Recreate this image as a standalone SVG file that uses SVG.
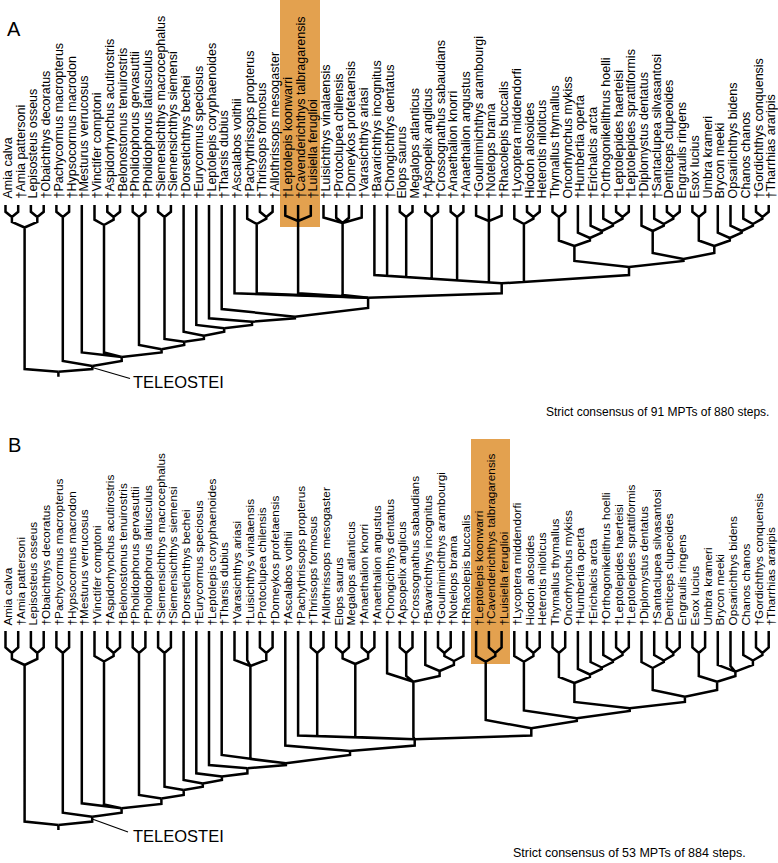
<svg xmlns="http://www.w3.org/2000/svg" width="778" height="863" viewBox="0 0 778 863">
<style>
.e{fill:none;stroke:#000;stroke-width:2.5;stroke-linejoin:miter}
.la{font-family:"Liberation Sans",Arial,sans-serif;font-size:12.5px;fill:#000}
.lb{font-family:"Liberation Sans",Arial,sans-serif;font-size:11.8px;fill:#000}
.cap{font-family:"Liberation Sans",Arial,sans-serif;fill:#000}
.tel{font-family:"Liberation Sans",Arial,sans-serif;font-size:16.5px;fill:#000}
.pl{font-family:"Liberation Sans",Arial,sans-serif;font-size:20px;fill:#000}
.hl{fill:#e3a14f}
</style>
<rect id="highlightA" class="hl" x="280" y="0" width="40" height="227"/>
<rect id="highlightB" class="hl" x="471" y="439" width="39" height="225"/>
<g id="panelA-title"><text class="pl" x="7" y="36">A</text></g>
<g id="panelB-title"><text class="pl" x="8" y="452">B</text></g>
<g id="taxaA">
<g id="a0"><text class="la" transform="translate(12,198.5) rotate(-90)">Amia calva</text></g>
<g id="a1"><text class="la" transform="translate(24.7,198.5) rotate(-90)">†Amia pattersoni</text></g>
<g id="a2"><text class="la" transform="translate(37.4,198.5) rotate(-90)">Lepisosteus osseus</text></g>
<g id="a3"><text class="la" transform="translate(50.2,198.5) rotate(-90)">†Obaichthys decoratus</text></g>
<g id="a4"><text class="la" transform="translate(62.9,198.5) rotate(-90)">†Pachycormus macropterus</text></g>
<g id="a5"><text class="la" transform="translate(75.6,198.5) rotate(-90)">†Hypsocormus macrodon</text></g>
<g id="a6"><text class="la" transform="translate(88.3,198.5) rotate(-90)">†Mesturus verrucosus</text></g>
<g id="a7"><text class="la" transform="translate(101,198.5) rotate(-90)">†Vinctifer comptoni</text></g>
<g id="a8"><text class="la" transform="translate(113.8,198.5) rotate(-90)">†Aspidorhynchus acutirostris</text></g>
<g id="a9"><text class="la" transform="translate(126.5,198.5) rotate(-90)">†Belonostomus tenuirostris</text></g>
<g id="a10"><text class="la" transform="translate(139.2,198.5) rotate(-90)">†Pholidophorus gervasuttii</text></g>
<g id="a11"><text class="la" transform="translate(151.9,198.5) rotate(-90)">†Pholidophorus latiusculus</text></g>
<g id="a12"><text class="la" transform="translate(164.6,198.5) rotate(-90)">†Siemensichthys macrocephalus</text></g>
<g id="a13"><text class="la" transform="translate(177.4,198.5) rotate(-90)">†Siemensichthys siemensi</text></g>
<g id="a14"><text class="la" transform="translate(190.1,198.5) rotate(-90)">†Dorsetichthys bechei</text></g>
<g id="a15"><text class="la" transform="translate(202.8,198.5) rotate(-90)">†Eurycormus speciosus</text></g>
<g id="a16"><text class="la" transform="translate(215.5,198.5) rotate(-90)">†Leptolepis coryphaenoides</text></g>
<g id="a17"><text class="la" transform="translate(228.2,198.5) rotate(-90)">†Tharsis dubius</text></g>
<g id="a18"><text class="la" transform="translate(241,198.5) rotate(-90)">†Ascalabos voithii</text></g>
<g id="a19"><text class="la" transform="translate(253.7,198.5) rotate(-90)">†Pachythrissops propterus</text></g>
<g id="a20"><text class="la" transform="translate(266.4,198.5) rotate(-90)">†Thrissops formosus</text></g>
<g id="a21"><text class="la" transform="translate(279.1,198.5) rotate(-90)">†Allothrissops mesogaster</text></g>
<g id="a22"><text class="la" transform="translate(291.8,198.5) rotate(-90)">†Leptolepis koonwarri</text></g>
<g id="a23"><text class="la" transform="translate(304.6,198.5) rotate(-90)">†Cavenderichthys talbragarensis</text></g>
<g id="a24"><text class="la" transform="translate(317.3,198.5) rotate(-90)">†Luisiella feruglioi</text></g>
<g id="a25"><text class="la" transform="translate(330,198.5) rotate(-90)">†Luisichthys vinalaensis</text></g>
<g id="a26"><text class="la" transform="translate(342.7,198.5) rotate(-90)">†Protoclupea chilensis</text></g>
<g id="a27"><text class="la" transform="translate(355.4,198.5) rotate(-90)">†Domeykos profetaensis</text></g>
<g id="a28"><text class="la" transform="translate(368.2,198.5) rotate(-90)">†Varasichthys ariasi</text></g>
<g id="a29"><text class="la" transform="translate(380.9,198.5) rotate(-90)">†Bavarichthys incognitus</text></g>
<g id="a30"><text class="la" transform="translate(393.6,198.5) rotate(-90)">†Chongichthys dentatus</text></g>
<g id="a31"><text class="la" transform="translate(406.3,198.5) rotate(-90)">Elops saurus</text></g>
<g id="a32"><text class="la" transform="translate(419,198.5) rotate(-90)">Megalops atlanticus</text></g>
<g id="a33"><text class="la" transform="translate(431.8,198.5) rotate(-90)">†Apsopelix anglicus</text></g>
<g id="a34"><text class="la" transform="translate(444.5,198.5) rotate(-90)">†Crossognathus sabaudians</text></g>
<g id="a35"><text class="la" transform="translate(457.2,198.5) rotate(-90)">†Anaethalion knorri</text></g>
<g id="a36"><text class="la" transform="translate(469.9,198.5) rotate(-90)">†Anaethalion angustus</text></g>
<g id="a37"><text class="la" transform="translate(482.6,198.5) rotate(-90)">†Goulmimichthys arambourgi</text></g>
<g id="a38"><text class="la" transform="translate(495.4,198.5) rotate(-90)">†Notelops brama</text></g>
<g id="a39"><text class="la" transform="translate(508.1,198.5) rotate(-90)">†Rhacolepis buccalis</text></g>
<g id="a40"><text class="la" transform="translate(520.8,198.5) rotate(-90)">†Lycoptera middendorfi</text></g>
<g id="a41"><text class="la" transform="translate(533.5,198.5) rotate(-90)">Hiodon alosoides</text></g>
<g id="a42"><text class="la" transform="translate(546.2,198.5) rotate(-90)">Heterotis niloticus</text></g>
<g id="a43"><text class="la" transform="translate(559,198.5) rotate(-90)">Thymallus thymallus</text></g>
<g id="a44"><text class="la" transform="translate(571.7,198.5) rotate(-90)">Oncorhynchus mykiss</text></g>
<g id="a45"><text class="la" transform="translate(584.4,198.5) rotate(-90)">†Humbertia operta</text></g>
<g id="a46"><text class="la" transform="translate(597.1,198.5) rotate(-90)">†Erichalcis arcta</text></g>
<g id="a47"><text class="la" transform="translate(609.8,198.5) rotate(-90)">†Orthogonikelithrus hoelli</text></g>
<g id="a48"><text class="la" transform="translate(622.6,198.5) rotate(-90)">†Leptolepides haerteisi</text></g>
<g id="a49"><text class="la" transform="translate(635.3,198.5) rotate(-90)">†Leptolepides sprattiformis</text></g>
<g id="a50"><text class="la" transform="translate(648,198.5) rotate(-90)">†Diplomystus dentatus</text></g>
<g id="a51"><text class="la" transform="translate(660.7,198.5) rotate(-90)">†Santaclupea silvasantosi</text></g>
<g id="a52"><text class="la" transform="translate(673.4,198.5) rotate(-90)">Denticeps clupeoides</text></g>
<g id="a53"><text class="la" transform="translate(686.2,198.5) rotate(-90)">Engraulis ringens</text></g>
<g id="a54"><text class="la" transform="translate(698.9,198.5) rotate(-90)">Esox lucius</text></g>
<g id="a55"><text class="la" transform="translate(711.6,198.5) rotate(-90)">Umbra krameri</text></g>
<g id="a56"><text class="la" transform="translate(724.3,198.5) rotate(-90)">Brycon meeki</text></g>
<g id="a57"><text class="la" transform="translate(737,198.5) rotate(-90)">Opsariichthys bidens</text></g>
<g id="a58"><text class="la" transform="translate(749.8,198.5) rotate(-90)">Chanos chanos</text></g>
<g id="a59"><text class="la" transform="translate(762.5,198.5) rotate(-90)">†Gordichthys conquensis</text></g>
<g id="a60"><text class="la" transform="translate(775.2,198.5) rotate(-90)">†Tharrhias araripis</text></g>
</g>
<g id="taxaB">
<g id="b0"><text class="lb" transform="translate(12,625.5) rotate(-90)">Amia calva</text></g>
<g id="b1"><text class="lb" transform="translate(24.7,625.5) rotate(-90)">†Amia pattersoni</text></g>
<g id="b2"><text class="lb" transform="translate(37.4,625.5) rotate(-90)">Lepisosteus osseus</text></g>
<g id="b3"><text class="lb" transform="translate(50.2,625.5) rotate(-90)">†Obaichthys decoratus</text></g>
<g id="b4"><text class="lb" transform="translate(62.9,625.5) rotate(-90)">†Pachycormus macropterus</text></g>
<g id="b5"><text class="lb" transform="translate(75.6,625.5) rotate(-90)">†Hypsocormus macrodon</text></g>
<g id="b6"><text class="lb" transform="translate(88.3,625.5) rotate(-90)">†Mesturus verrucosus</text></g>
<g id="b7"><text class="lb" transform="translate(101,625.5) rotate(-90)">†Vinctifer comptoni</text></g>
<g id="b8"><text class="lb" transform="translate(113.8,625.5) rotate(-90)">†Aspidorhynchus acutirostris</text></g>
<g id="b9"><text class="lb" transform="translate(126.5,625.5) rotate(-90)">†Belonostomus tenuirostris</text></g>
<g id="b10"><text class="lb" transform="translate(139.2,625.5) rotate(-90)">†Pholidophorus gervasuttii</text></g>
<g id="b11"><text class="lb" transform="translate(151.9,625.5) rotate(-90)">†Pholidophorus latiusculus</text></g>
<g id="b12"><text class="lb" transform="translate(164.6,625.5) rotate(-90)">†Siemensichthys macrocephalus</text></g>
<g id="b13"><text class="lb" transform="translate(177.4,625.5) rotate(-90)">†Siemensichthys siemensi</text></g>
<g id="b14"><text class="lb" transform="translate(190.1,625.5) rotate(-90)">†Dorsetichthys bechei</text></g>
<g id="b15"><text class="lb" transform="translate(202.8,625.5) rotate(-90)">†Eurycormus speciosus</text></g>
<g id="b16"><text class="lb" transform="translate(215.5,625.5) rotate(-90)">†Leptolepis coryphaenoides</text></g>
<g id="b17"><text class="lb" transform="translate(228.2,625.5) rotate(-90)">†Tharsis dubius</text></g>
<g id="b18"><text class="lb" transform="translate(241,625.5) rotate(-90)">†Varasichthys ariasi</text></g>
<g id="b19"><text class="lb" transform="translate(253.7,625.5) rotate(-90)">†Luisichthys vinalaensis</text></g>
<g id="b20"><text class="lb" transform="translate(266.4,625.5) rotate(-90)">†Protoclupea chilensis</text></g>
<g id="b21"><text class="lb" transform="translate(279.1,625.5) rotate(-90)">†Domeykos profetaensis</text></g>
<g id="b22"><text class="lb" transform="translate(291.8,625.5) rotate(-90)">†Ascalabos voithii</text></g>
<g id="b23"><text class="lb" transform="translate(304.6,625.5) rotate(-90)">†Pachythrissops propterus</text></g>
<g id="b24"><text class="lb" transform="translate(317.3,625.5) rotate(-90)">†Thrissops formosus</text></g>
<g id="b25"><text class="lb" transform="translate(330,625.5) rotate(-90)">†Allothrissops mesogaster</text></g>
<g id="b26"><text class="lb" transform="translate(342.7,625.5) rotate(-90)">Elops saurus</text></g>
<g id="b27"><text class="lb" transform="translate(355.4,625.5) rotate(-90)">Megalops atlanticus</text></g>
<g id="b28"><text class="lb" transform="translate(368.2,625.5) rotate(-90)">†Anaethalion knorri</text></g>
<g id="b29"><text class="lb" transform="translate(380.9,625.5) rotate(-90)">†Anaethalion angustus</text></g>
<g id="b30"><text class="lb" transform="translate(393.6,625.5) rotate(-90)">†Chongichthys dentatus</text></g>
<g id="b31"><text class="lb" transform="translate(406.3,625.5) rotate(-90)">†Apsopelix anglicus</text></g>
<g id="b32"><text class="lb" transform="translate(419,625.5) rotate(-90)">†Crossognathus sabaudians</text></g>
<g id="b33"><text class="lb" transform="translate(431.8,625.5) rotate(-90)">†Bavarichthys incognitus</text></g>
<g id="b34"><text class="lb" transform="translate(444.5,625.5) rotate(-90)">†Goulmimichthys arambourgi</text></g>
<g id="b35"><text class="lb" transform="translate(457.2,625.5) rotate(-90)">†Notelops brama</text></g>
<g id="b36"><text class="lb" transform="translate(469.9,625.5) rotate(-90)">†Rhacolepis buccalis</text></g>
<g id="b37"><text class="lb" transform="translate(482.6,625.5) rotate(-90)">†Leptolepis koonwarri</text></g>
<g id="b38"><text class="lb" transform="translate(495.4,625.5) rotate(-90)">†Cavenderichthys talbragarensis</text></g>
<g id="b39"><text class="lb" transform="translate(508.1,625.5) rotate(-90)">†Luisiella feruglioi</text></g>
<g id="b40"><text class="lb" transform="translate(520.8,625.5) rotate(-90)">†Lycoptera middendorfi</text></g>
<g id="b41"><text class="lb" transform="translate(533.5,625.5) rotate(-90)">Hiodon alosoides</text></g>
<g id="b42"><text class="lb" transform="translate(546.2,625.5) rotate(-90)">Heterotis niloticus</text></g>
<g id="b43"><text class="lb" transform="translate(559,625.5) rotate(-90)">Thymallus thymallus</text></g>
<g id="b44"><text class="lb" transform="translate(571.7,625.5) rotate(-90)">Oncorhynchus mykiss</text></g>
<g id="b45"><text class="lb" transform="translate(584.4,625.5) rotate(-90)">†Humbertia operta</text></g>
<g id="b46"><text class="lb" transform="translate(597.1,625.5) rotate(-90)">†Erichalcis arcta</text></g>
<g id="b47"><text class="lb" transform="translate(609.8,625.5) rotate(-90)">†Orthogonikelithrus hoelli</text></g>
<g id="b48"><text class="lb" transform="translate(622.6,625.5) rotate(-90)">†Leptolepides haerteisi</text></g>
<g id="b49"><text class="lb" transform="translate(635.3,625.5) rotate(-90)">†Leptolepides sprattiformis</text></g>
<g id="b50"><text class="lb" transform="translate(648,625.5) rotate(-90)">†Diplomystus dentatus</text></g>
<g id="b51"><text class="lb" transform="translate(660.7,625.5) rotate(-90)">†Santaclupea silvasantosi</text></g>
<g id="b52"><text class="lb" transform="translate(673.4,625.5) rotate(-90)">Denticeps clupeoides</text></g>
<g id="b53"><text class="lb" transform="translate(686.2,625.5) rotate(-90)">Engraulis ringens</text></g>
<g id="b54"><text class="lb" transform="translate(698.9,625.5) rotate(-90)">Esox lucius</text></g>
<g id="b55"><text class="lb" transform="translate(711.6,625.5) rotate(-90)">Umbra krameri</text></g>
<g id="b56"><text class="lb" transform="translate(724.3,625.5) rotate(-90)">Brycon meeki</text></g>
<g id="b57"><text class="lb" transform="translate(737,625.5) rotate(-90)">Opsariichthys bidens</text></g>
<g id="b58"><text class="lb" transform="translate(749.8,625.5) rotate(-90)">Chanos chanos</text></g>
<g id="b59"><text class="lb" transform="translate(762.5,625.5) rotate(-90)">†Gordichthys conquensis</text></g>
<g id="b60"><text class="lb" transform="translate(775.2,625.5) rotate(-90)">†Tharrhias araripis</text></g>
</g>
<g id="connectors">
<path id="treeA-base" class="e" d="M5.5 205V211.8L11.9 217M18.2 205V211.8L11.9 217M30.9 205V211.8L37.3 217M43.7 205V211.8L37.3 217M11.9 217V222L24.6 227.5M37.3 217V222L24.6 227.5M24.6 227.5V369L58.4 371.7M56.4 205V211.8L62.8 217M69.1 205V211.8L62.8 217M62.8 217V361L92.3 366M81.8 205V352.5L121.7 357M107.3 205V211.8L113.6 217M120 205V211.8L113.6 217M94.5 205V219.7L104 225M113.6 217V219.7L104 225M104 225V352.5L121.7 357M132.7 205V211.8L139 217M145.4 205V211.8L139 217M139 217V345L161.6 349.3M158.1 205V211.8L164.5 217M170.9 205V211.8L164.5 217M164.5 217V339L184.2 341.7M183.6 205V331.7L203.9 335.7M196.3 205V325L224.2 328.3M209 205V318.3L252 321.7M221.7 205V309L294.9 316.7M234.5 205V293.3L368.1 297.7"/>
<path id="treeA-mid" class="e" d="M259.9 205V211.8L266.3 217M272.6 205V211.8L266.3 217M247.2 205V218.7L256.7 224M266.3 217V218.7L256.7 224M256.7 224V293.3L368.1 297.7M285.3 205V215.6L298.1 221M298.1 205V221M310.8 205V215.6L298.1 221M298.1 221V293.3L368.1 297.7M323.5 205V217.5L342.6 223M336.2 205V217.8L342.6 223M348.9 205V217.8L342.6 223M361.7 205V217.5L342.6 223M342.6 223V295L368.1 297.7M374.4 205V275L501.7 283.3M387.1 205V275.8L501.7 283.3M399.8 205V211.8L406.2 217M412.5 205V211.8L406.2 217M406.2 217V277L501.7 283.3M425.3 205V211.8L431.7 217M438 205V211.8L431.7 217M431.7 217V278.7L501.7 283.3M450.7 205V211.8L457.1 217M463.4 205V211.8L457.1 217M457.1 217V280.4L501.7 283.3M476.1 205V215.6L488.9 221M488.9 205V221M501.6 205V215.6L488.9 221M488.9 221V282.4L501.7 283.3M527 205V211.8L533.4 217M539.7 205V211.8L533.4 217M514.3 205V218.7L523.9 224M533.4 217V218.7L523.9 224M523.9 224V281.9L501.7 283.3M629 267V275L501.7 283.3"/>
<path id="treeA-spine" class="e" d="M501.7 283.3V293.3L368.1 297.7M368.1 297.7V308L294.9 316.7M294.9 316.7V318.3L252 321.7M252 321.7V325L224.2 328.3M224.2 328.3V331.7L203.9 335.7M203.9 335.7V339L184.2 341.7M184.2 341.7V345L161.6 349.3M161.6 349.3V352.5L121.7 357M121.7 357V361L92.3 366M92.3 366V369L58.4 371.7M58.4 371.7V376.7"/>
<path id="treeA-crown" class="e" d="M552.5 205V211.8L558.9 217M565.2 205V211.8L558.9 217M616.1 205V211.8L622.5 217M628.8 205V211.8L622.5 217M603.3 205V218.7L612.9 224M622.5 217V218.7L612.9 224M590.6 205V225.7L601.8 231M612.9 224V225.7L601.8 231M577.9 205V232.6L589.9 238M601.8 231V232.6L589.9 238M558.9 217V240.5L574.4 246M589.9 238V240.5L574.4 246M666.9 205V211.8L673.3 217M679.7 205V211.8L673.3 217M654.2 205V218.7L663.8 224M673.3 217V218.7L663.8 224M641.5 205V225.7L652.7 231M663.8 224V225.7L652.7 231M692.4 205V211.8L698.8 217M705.1 205V211.8L698.8 217M756 205V211.8L762.4 217M768.7 205V211.8L762.4 217M743.3 205V218.7L752.9 224M762.4 217V218.7L752.9 224M730.5 205V225.7L741.7 231M752.9 224V225.7L741.7 231M717.8 205V232.6L729.8 238M741.7 231V232.6L729.8 238M698.8 217V240.5L714.3 246M729.8 238V240.5L714.3 246M652.7 231V253L683.5 259M714.3 246V253L683.5 259M574.4 246V261L629 267M683.5 259V261L629 267"/>
<path id="leaderA" fill="none" stroke="#000" stroke-width="1.2" d="M92.3 367.5L130 378.5"/>
<path id="treeB-base" class="e" d="M5.5 631V647.5L11.9 653M18.2 631V647.5L11.9 653M30.9 631V647.5L37.3 653M43.7 631V647.5L37.3 653M11.9 653V659L24.6 665M37.3 653V659L24.6 665M24.6 665V821.5L58.4 825M56.4 631V647.5L62.8 653M69.1 631V647.5L62.8 653M62.8 653V812.7L92.2 816.7M81.8 631V803.3L121.6 808.3M107.3 631V647.5L113.6 653M120 631V647.5L113.6 653M94.5 631V656L104 661.5M113.6 653V656L104 661.5M104 661.5V804.5L121.6 808.3M132.7 631V647.5L139 653M145.4 631V647.5L139 653M139 653V795L161.4 798.5M158.1 631V647.5L164.5 653M170.9 631V647.5L164.5 653M164.5 653V786.7L183.7 790M183.6 631V780L202.8 783.5M196.3 631V773.3L221.9 776.5M209 631V765L247.4 768.3M221.7 631V755L285.9 763.3M234.5 631V660L250.4 666M247.2 631V660L250.4 666M259.9 631V647.5L266.3 653M272.6 631V647.5L266.3 653M266.3 653V660L250.4 666M250.4 666V759L285.9 763.3M285.3 631V745.5L350 751"/>
<path id="treeB-mid" class="e" d="M298.1 631V735.5L414.7 739.3M310.8 631V647.5L317.2 653M323.5 631V647.5L317.2 653M317.2 653V736L414.7 739.3M336.2 631V647.5L342.6 653M348.9 631V647.5L342.6 653M361.7 631V647.5L368.1 653M374.4 631V647.5L368.1 653M342.6 653V658.5L355.3 664M368.1 653V658.5L355.3 664M355.3 664V737L414.7 739.3M399.8 631V647.5L406.2 653M412.5 631V647.5L406.2 653M438 631V647.5L444.4 653M450.7 631V647.5L444.4 653M444.4 653V656L453.9 661M463.4 631V656L453.9 661M425.3 631V665L439.6 671M453.9 661V665L439.6 671M387.1 631V673.3L413.4 681.7M406.2 653V676L413.4 681.7M439.6 671V676L413.4 681.7M413.4 681.7V737L414.7 739.3M531.3 728.3V735.5L414.7 739.3"/>
<path id="treeB-spine" class="e" d="M414.7 739.3V745.5L350 751M350 751V755L285.9 763.3M285.9 763.3V765L247.4 768.3M247.4 768.3V773.3L221.9 776.5M221.9 776.5V780L202.8 783.5M202.8 783.5V786.7L183.7 790M183.7 790V795L161.4 798.5M161.4 798.5V804L121.6 808.3M121.6 808.3V812.7L92.2 816.7M92.2 816.7V821.5L58.4 825M58.4 825V830"/>
<path id="treeB-crown" class="e" d="M488.9 631V647.5L495.3 653M501.6 631V647.5L495.3 653M476.1 631V656L485.7 661.7M495.3 653V656L485.7 661.7M485.7 661.7V720L531.3 728.3M576.8 718.3V721L531.3 728.3M527 631V647.5L533.4 653M539.7 631V647.5L533.4 653M514.3 631V656L523.9 661.7M533.4 653V656L523.9 661.7M523.9 661.7V710.5L576.8 718.3M629.7 708.3V711L576.8 718.3M552.5 631V647.5L558.9 653M565.2 631V647.5L558.9 653M616.1 631V647.5L622.5 653M628.8 631V647.5L622.5 653M603.3 631V655L612.9 660.5M622.5 653V655L612.9 660.5M590.6 631V662L601.8 667.5M612.9 660.5V662L601.8 667.5M577.9 631V669L589.9 674.5M601.8 667.5V669L589.9 674.5M558.9 653V677L574.4 683M589.9 674.5V677L574.4 683M666.9 631V647.5L673.3 653M679.7 631V647.5L673.3 653M654.2 631V655L663.8 660.5M673.3 653V655L663.8 660.5M641.5 631V662L652.7 668M663.8 660.5V662L652.7 668M692.4 631V647.5L698.8 653M705.1 631V647.5L698.8 653M756 631V647.5L762.4 653M768.7 631V647.5L762.4 653M743.3 631V655L752.9 660.5M762.4 653V655L752.9 660.5M717.8 631V665L735.4 671.7M730.5 631V666L735.4 671.7M752.9 660.5V665L735.4 671.7M698.8 653V676L717.1 681.7M735.4 671.7V676L717.1 681.7M652.7 668V690L684.9 696.7M717.1 681.7V690L684.9 696.7M574.4 683V702L629.7 708.3M684.9 696.7V702L629.7 708.3"/>
<path id="leaderB" fill="none" stroke="#000" stroke-width="1.2" d="M92.2 819L128 832"/>
</g>
<g id="teleosteiA"><text class="tel" x="133" y="388">TELEOSTEI</text></g>
<g id="teleosteiB"><text class="tel" x="133" y="842">TELEOSTEI</text></g>
<g id="captionA"><text class="cap" x="546" y="416" font-size="12">Strict consensus of 91 MPTs of 880 steps.</text></g>
<g id="captionB"><text class="cap" x="513" y="857" font-size="12.5">Strict consensus of 53 MPTs of 884 steps.</text></g>
</svg>
